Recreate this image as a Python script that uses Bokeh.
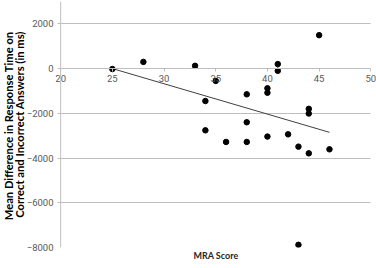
from bokeh.plotting import figure
from bokeh.models import Range1d, FixedTicker, Title, ColumnDataSource, Span
from bokeh.embed import file_html
from bokeh.resources import INLINE

# data
mra_score = [25, 28, 33, 34, 34, 35, 36, 38, 38, 38, 40, 40, 40, 41, 41, 42, 43, 43, 44, 44, 44, 45, 46]
rt_diff = [-20, 300, 125, -1450, -2760, -550, -3280, -1150, -2400, -3280, -880, -1080, -3040,
           200, -100, -2940, -3490, -7880, -1800, -2010, -3790, 1495, -3610]
trend_x = [25, 46]
trend_y = [0, -2850]
x_ticks = [20, 25, 30, 35, 40, 45, 50]
y_ticks = [-8000, -6000, -4000, -2000, 0, 2000]
x_title = "MRA Score"
y_title_lines = ["Mean Difference in Response Time  on", "Correct and Incorrect Answers (in ms)"]

FONT = "Lato"
TICK_FONT = "Roboto"
GRID = "#bfbfbf"
TICK_TXT = "#595959"

p = figure(width=376, height=268, output_backend="svg", toolbar_location=None,
           x_range=Range1d(19.5, 50.55), y_range=Range1d(-8000, 3000),
           min_border_left=55, min_border_right=0, min_border_top=1, min_border_bottom=21)
p.outline_line_color = None
p.background_fill_color = "white"
p.border_fill_color = "white"

# x axis crossing at y = 0
xa = p.xaxis[0]
xa.fixed_location = 0
xa.bounds = (20, 50)
xa.ticker = FixedTicker(ticks=x_ticks)
xa.axis_line_color = GRID
xa.major_tick_line_color = GRID
xa.major_tick_out = 3
xa.major_tick_in = 0
xa.minor_tick_line_color = None
xa.major_label_text_font = TICK_FONT
xa.major_label_text_font_size = "9.5px"
xa.major_label_text_color = TICK_TXT
xa.major_label_standoff = 3

ya = p.yaxis[0]
ya.ticker = FixedTicker(ticks=y_ticks)
ya.axis_line_color = None
ya.major_tick_line_color = None
ya.major_tick_out = 0
ya.major_tick_in = 0
ya.minor_tick_line_color = None
ya.major_label_text_font = TICK_FONT
ya.major_label_text_font_size = "9.5px"
ya.major_label_text_color = TICK_TXT
ya.major_label_standoff = 2

p.xgrid.grid_line_color = None
p.ygrid.grid_line_color = GRID
p.ygrid.ticker = FixedTicker(ticks=y_ticks)
if hasattr(p.ygrid, "cross_bounds"):
    p.ygrid.cross_bounds = (19.7, 50)

# vertical axis line at x = 20
p.add_layout(Span(location=x_ticks[0], dimension="height", line_color=GRID, line_width=1))

p.add_layout(Title(text=x_title, align="center", text_font=FONT, text_font_size="9px",
                   text_font_style="bold", text_color="#262626", standoff=0), "below")

# y title: inner line first (closest to the axis), then outer line
for line in reversed(y_title_lines):
    p.add_layout(Title(text=line, align="center", text_font=FONT, text_font_size="11.2px",
                       text_font_style="bold", text_color="black", standoff=-4,
                       text_line_height=1.0), "left")

src = ColumnDataSource(dict(x=mra_score, y=rt_diff))
p.line(trend_x, trend_y, line_color="#404040", line_width=1)
p.scatter("x", "y", source=src, size=5.5, fill_color="black", line_color="black")

open("out.html", "w").write(file_html(p, INLINE))
